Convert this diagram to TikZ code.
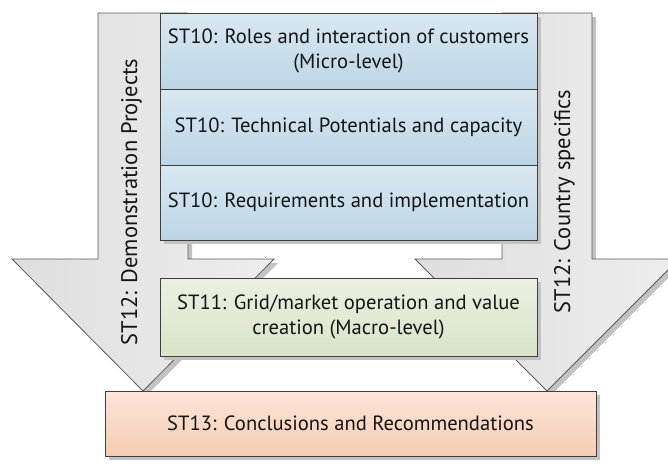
\documentclass[tikz,border=0pt]{standalone}
\usepackage{fontspec}
\setmainfont{PT Sans}
\usetikzlibrary{shadows}
\definecolor{bluetop}{HTML}{D9E8F2}
\definecolor{bluebot}{HTML}{BCD5E6}
\definecolor{greentop}{HTML}{EBF1E1}
\definecolor{greenbot}{HTML}{D8E3C8}
\definecolor{peachtop}{HTML}{FCE5D8}
\definecolor{peachbot}{HTML}{F5CDB3}
\definecolor{arrowl}{HTML}{DEDEDE}
\definecolor{arrowr}{HTML}{EEEEEE}
\definecolor{edge}{HTML}{3F3F3F}
\definecolor{arrowedge}{HTML}{5A5A5A}
\definecolor{shadowgray}{HTML}{C2C2C2}
\definecolor{txt}{HTML}{151515}
\begin{document}
\begin{tikzpicture}[x=1pt,y=-1pt,
  myshadow/.style={drop shadow={shadow xshift=4pt,shadow yshift=-4pt,fill=shadowgray,opacity=1}},
  bigarrow/.style={draw=arrowedge,line width=0.8pt,left color=arrowl,right color=arrowr,myshadow},
  box/.style={draw=edge,line width=0.8pt,rectangle,inner sep=0pt,outer sep=0pt,align=center,
    text=txt,font=\fontsize{20.6}{25}\selectfont,myshadow},
  bluebox/.style={box,top color=bluetop,bottom color=bluebot,minimum width=377pt,minimum height=76pt},
  greenbox/.style={box,top color=greentop,bottom color=greenbot,minimum width=377pt,minimum height=78pt},
  peachbox/.style={box,top color=peachtop,bottom color=peachbot,minimum width=491pt,minimum height=65pt},
  sidetext/.style={rotate=90,anchor=base,text=txt,font=\fontsize{22.5}{25}\selectfont,inner sep=0pt}
]
\useasboundingbox (0,0) rectangle (668,463);
\clip (0,0) rectangle (668,463);
% big arrows
\path[bigarrow] (98,13) -- (188,13) -- (188,259) -- (274,259) -- (143,391) -- (12,259) -- (98,259) -- cycle;
\path[bigarrow] (502,13) -- (592,13) -- (592,259) -- (679,259) -- (547,391) -- (415,259) -- (502,259) -- cycle;
\node[sidetext] (demo) at (137,202) {ST12: Demonstration Projects};
\node[sidetext] (country) at (570,201.5) {ST12: Country specifics};
% boxes
\node[bluebox] (b1) at (348.5,51) {ST10: Roles and interaction of customers\\(Micro-level)};
\node[bluebox] (b2) at (348.5,127) {ST10: Technical Potentials and capacity};
\node[bluebox,minimum height=75pt] (b3) at (348.5,202.5) {ST10: Requirements and implementation};
\node[greenbox] (g) at (348.5,317) {ST11: Grid/market operation and value\\creation (Macro-level)};
\node[peachbox] (p) at (350.5,423.5) {ST13: Conclusions and Recommendations};
\end{tikzpicture}
\end{document}
